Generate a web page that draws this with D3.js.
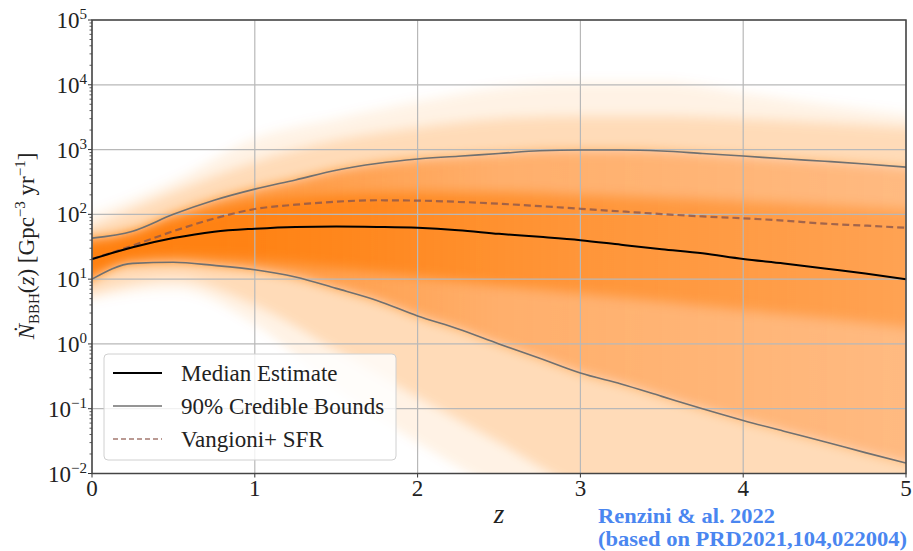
<!DOCTYPE html>
<html>
<head>
<meta charset="utf-8">
<script src="https://cdn.jsdelivr.net/npm/d3@7"></script>
<style>
  body { margin: 0; background: #fff; }
  svg text { font-family: "Liberation Serif", "Times New Roman", serif; fill: #222; }
</style>
</head>
<body>
<div id="chart"></div>
<script>
/* redshift grids */
const zFine = [0, 0.25, 0.5, 0.75, 1, 1.25, 1.5, 1.75, 2, 2.25, 2.5, 2.75, 3, 3.25, 3.5, 3.75, 4, 4.25, 4.5, 4.75, 5];
const zBand = [0, 0.5, 1, 1.5, 2, 2.5, 3, 3.5, 4, 4.5, 5];

/* summary curves (Gpc^-3 yr^-1), on zFine */
const medianRate = [20.4, 31, 43, 54, 60, 64, 65, 64, 62, 57, 50, 45, 40, 34, 29, 25, 20.5, 17.5, 14.6, 12.2, 10];
const upper90 = [43, 55, 100, 165, 245, 340, 480, 610, 716, 790, 870, 960, 985, 985, 950, 870, 795, 720, 660, 600, 535];
const lower90 = [10, 17.5, 18.2, 16.3, 14, 10.8, 7.2, 4.7, 2.7, 1.7, 1.0, 0.6, 0.355, 0.24, 0.155, 0.1, 0.066, 0.045, 0.031, 0.021, 0.0145];
const vangioniSFR = [20.4, 33, 55, 86, 121, 141, 157, 165, 163, 156, 146, 134, 122, 111, 101, 93, 87, 80, 72, 67, 62];

/* spread of the posterior samples, on zBand */
const envHi = [100, 330, 1500, 3000, 5500, 9000, 11000, 11000, 7500, 5000, 3500];
const envLo = [5, 7, 2, 0.2, 0.03, 0.006, 0.003, 0.003, 0.003, 0.003, 0.003];
const band99Hi = [65, 220, 650, 1400, 2200, 3000, 3300, 3300, 3000, 2600, 2200];
const band99Lo = [6, 10, 4, 0.8, 0.15, 0.03, 0.006, 0.003, 0.003, 0.003, 0.003];
const coreHi = [38, 80, 150, 200, 220, 220, 200, 180, 160, 140, 120];
const coreLo = [13, 22, 20, 15, 11, 8, 6, 4.5, 3.3, 2.5, 1.8];

const xTicks = [0, 1, 2, 3, 4, 5];
const yExponents = [-2, -1, 0, 1, 2, 3, 4, 5];

const legendItems = ["Median Estimate", "90% Credible Bounds", "Vangioni+ SFR"];

/* dimensions */
let width = 913;
let height = 551;
let margin = {top: 20, bottom: 77.5, left: 92, right: 7};
let pWidth = width - margin.left - margin.right;
let pHeight = height - margin.top - margin.bottom;

const orange = "#ff7f0e";

let svg = d3.select("#chart")
            .append("svg")
              .attr("width", width)
              .attr("height", height);

svg.append("rect")
     .attr("width", width)
     .attr("height", height)
     .attr("fill", "#fff");

let xScale = d3.scaleLinear()
               .domain([0, 5])
               .range([margin.left, margin.left + pWidth]);

let yScale = d3.scaleLog()
               .domain([1e-2, 1e5])
               .range([margin.top + pHeight, margin.top]);

let defs = svg.append("defs");

defs.append("clipPath")
      .attr("id", "plot-clip")
    .append("rect")
      .attr("x", margin.left)
      .attr("y", margin.top)
      .attr("width", pWidth)
      .attr("height", pHeight);

// soft vertical edges, the samples thin out gradually
defs.append("filter")
      .attr("id", "soft")
      .attr("x", "0%").attr("y", "-10%")
      .attr("width", "100%").attr("height", "120%")
    .append("feGaussianBlur")
      .attr("stdDeviation", "0 6");

// opacity fades with redshift as the samples spread out
function fadeGradient(id, stops) {
  let g = defs.append("linearGradient")
                .attr("id", id)
                .attr("gradientUnits", "userSpaceOnUse")
                .attr("x1", xScale(0)).attr("x2", xScale(5))
                .attr("y1", 0).attr("y2", 0);
  stops.forEach(s => {
    g.append("stop")
       .attr("offset", s[0])
       .attr("stop-color", orange)
       .attr("stop-opacity", s[1]);
  });
}
fadeGradient("grad-90", [[0, 0.85], [0.2, 0.72], [0.5, 0.48], [1, 0.36]]);
fadeGradient("grad-core", [[0, 0.92], [0.2, 0.85], [0.6, 0.55], [1, 0.4]]);

let bandArea = (zs, lo, hi) => d3.area()
                                 .x((d, i) => xScale(zs[i]))
                                 .y0((d, i) => yScale(lo[i]))
                                 .y1((d, i) => yScale(hi[i]))
                                 .curve(d3.curveMonotoneX)(zs);

let bands = svg.append("g")
               .attr("clip-path", "url(#plot-clip)")
             .append("g")
               .attr("filter", "url(#soft)");

bands.append("path")
       .attr("d", bandArea(zBand, envLo, envHi))
       .attr("fill", orange)
       .attr("fill-opacity", 0.1);

bands.append("path")
       .attr("d", bandArea(zBand, band99Lo, band99Hi))
       .attr("fill", orange)
       .attr("fill-opacity", 0.2);

bands.append("path")
       .attr("d", bandArea(zFine, lower90, upper90))
       .attr("fill", "url(#grad-90)");

bands.append("path")
       .attr("d", bandArea(zBand, coreLo, coreHi))
       .attr("fill", "url(#grad-core)");

/* grid */
let grid = svg.append("g");

grid.selectAll(".gx")
    .data(xTicks)
    .enter()
    .append("line")
      .attr("x1", d => xScale(d)).attr("x2", d => xScale(d))
      .attr("y1", margin.top).attr("y2", margin.top + pHeight)
      .attr("stroke", "#b8b8b8")
      .attr("stroke-width", 1.2);

grid.selectAll(".gy")
    .data(yExponents)
    .enter()
    .append("line")
      .attr("x1", margin.left).attr("x2", margin.left + pWidth)
      .attr("y1", d => yScale(Math.pow(10, d))).attr("y2", d => yScale(Math.pow(10, d)))
      .attr("stroke", "#b8b8b8")
      .attr("stroke-width", 1.2);

/* summary lines */
let line = vals => d3.line()
                     .x((d, i) => xScale(zFine[i]))
                     .y((d, i) => yScale(vals[i]))
                     .curve(d3.curveMonotoneX)(zFine);

let curves = svg.append("g")
                .attr("clip-path", "url(#plot-clip)");

curves.append("path")
        .attr("d", line(upper90))
        .attr("fill", "none")
        .attr("stroke", "#707070")
        .attr("stroke-width", 1.6);

curves.append("path")
        .attr("d", line(lower90))
        .attr("fill", "none")
        .attr("stroke", "#707070")
        .attr("stroke-width", 1.6);

curves.append("path")
        .attr("d", line(vangioniSFR))
        .attr("fill", "none")
        .attr("stroke", "#8c564b")
        .attr("stroke-opacity", 0.8)
        .attr("stroke-width", 2.2)
        .attr("stroke-dasharray", "7,4");

curves.append("path")
        .attr("d", line(medianRate))
        .attr("fill", "none")
        .attr("stroke", "#000")
        .attr("stroke-width", 2);

/* axes: ticks drawn by hand so labels can carry superscripts */
let axes = svg.append("g");

let minor = [];
yExponents.slice(0, -1).forEach(e => {
  for (let m = 2; m < 10; m++) minor.push(m * Math.pow(10, e));
});

axes.selectAll(".ymin")
    .data(minor)
    .enter()
    .append("line")
      .attr("x1", margin.left - 2.5).attr("x2", margin.left)
      .attr("y1", d => yScale(d)).attr("y2", d => yScale(d))
      .attr("stroke", "#333")
      .attr("stroke-width", 0.8);

axes.selectAll(".ymaj")
    .data(yExponents)
    .enter()
    .append("line")
      .attr("x1", margin.left - 4).attr("x2", margin.left)
      .attr("y1", d => yScale(Math.pow(10, d))).attr("y2", d => yScale(Math.pow(10, d)))
      .attr("stroke", "#333")
      .attr("stroke-width", 1);

axes.selectAll(".xmaj")
    .data(xTicks)
    .enter()
    .append("line")
      .attr("x1", d => xScale(d)).attr("x2", d => xScale(d))
      .attr("y1", margin.top + pHeight).attr("y2", margin.top + pHeight + 4)
      .attr("stroke", "#333")
      .attr("stroke-width", 1);

let yLabels = axes.selectAll(".ylab")
                  .data(yExponents)
                  .enter()
                  .append("text")
                    .attr("x", margin.left - 5)
                    .attr("y", d => yScale(Math.pow(10, d)) + 8)
                    .attr("text-anchor", "end")
                    .attr("font-size", 23);
yLabels.append("tspan").text("10");
yLabels.append("tspan")
         .attr("dy", -9)
         .attr("font-size", 15)
         .text(d => d < 0 ? "\u2212" + (-d) : d);

axes.selectAll(".xlab")
    .data(xTicks)
    .enter()
    .append("text")
      .attr("x", d => xScale(d))
      .attr("y", margin.top + pHeight + 22)
      .attr("text-anchor", "middle")
      .attr("font-size", 23)
      .text(d => d);

/* spines */
svg.append("rect")
     .attr("x", margin.left)
     .attr("y", margin.top)
     .attr("width", pWidth)
     .attr("height", pHeight)
     .attr("fill", "none")
     .attr("stroke", "#444")
     .attr("stroke-width", 1.5);

/* axis titles */
svg.append("text")
     .attr("x", xScale(2.5))
     .attr("y", 523)
     .attr("text-anchor", "middle")
     .attr("font-size", 27)
     .attr("font-style", "italic")
     .text("z");

let yTitle = svg.append("text")
                .attr("transform", "translate(34, 246) rotate(-90)")
                .attr("text-anchor", "middle")
                .attr("font-size", 23);
yTitle.append("tspan").attr("font-style", "italic").text("N\u0307");
yTitle.append("tspan").attr("dy", 5).attr("font-size", 15).text("BBH");
yTitle.append("tspan").attr("dy", -5).text("(");
yTitle.append("tspan").attr("font-style", "italic").text("z");
yTitle.append("tspan").text(") [Gpc");
yTitle.append("tspan").attr("dy", -9).attr("font-size", 15).text("\u22123");
yTitle.append("tspan").attr("dy", 9).text(" yr");
yTitle.append("tspan").attr("dy", -9).attr("font-size", 15).text("\u22121");
yTitle.append("tspan").attr("dy", 9).text("]");

/* legend */
let legend = svg.append("g");

legend.append("rect")
        .attr("x", 104)
        .attr("y", 354)
        .attr("width", 292)
        .attr("height", 106)
        .attr("rx", 4)
        .attr("fill", "#fff")
        .attr("fill-opacity", 0.8)
        .attr("stroke", "#d0d0d0")
        .attr("stroke-width", 1);

let legendStyles = [
  {stroke: "#000", width: 2, dash: null, opacity: 1},
  {stroke: "#707070", width: 1.6, dash: null, opacity: 1},
  {stroke: "#8c564b", width: 2, dash: "5,3", opacity: 0.6}
];

legendItems.forEach((name, i) => {
  let y = 373 + i * 33;
  legend.append("line")
          .attr("x1", 113).attr("x2", 162)
          .attr("y1", y).attr("y2", y)
          .attr("stroke", legendStyles[i].stroke)
          .attr("stroke-width", legendStyles[i].width)
          .attr("stroke-opacity", legendStyles[i].opacity)
          .attr("stroke-dasharray", legendStyles[i].dash);
  legend.append("text")
          .attr("x", 181)
          .attr("y", y + 8)
          .attr("font-size", 23)
          .text(name);
});

/* credit */
svg.append("text")
     .attr("x", 598)
     .attr("y", 523)
     .attr("font-size", 21)
     .attr("font-weight", "bold")
     .style("fill", "#4a86f0")
     .attr("textLength", 177)
     .attr("lengthAdjust", "spacingAndGlyphs")
     .text("Renzini & al. 2022");

svg.append("text")
     .attr("x", 598)
     .attr("y", 546)
     .attr("font-size", 21)
     .attr("font-weight", "bold")
     .style("fill", "#4a86f0")
     .attr("textLength", 309)
     .attr("lengthAdjust", "spacingAndGlyphs")
     .text("(based on PRD2021,104,022004)");
</script>
</body>
</html>
